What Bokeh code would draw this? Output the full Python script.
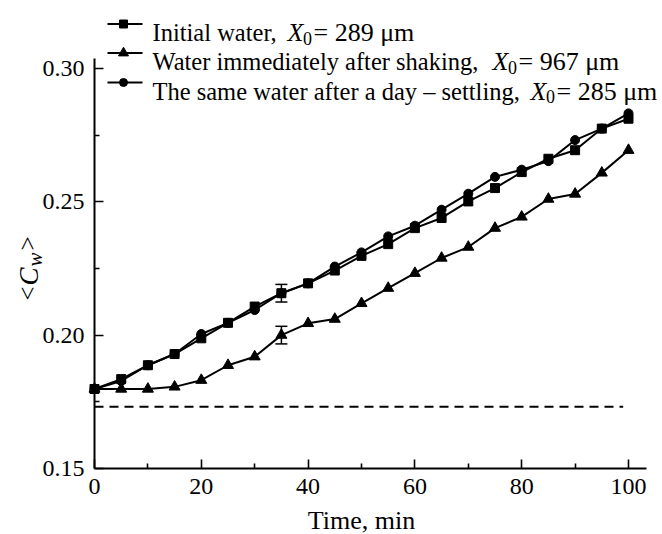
from math import pi
from bokeh.plotting import figure
from bokeh.models import (Range1d, FixedTicker, NumeralTickFormatter, Label,
                          Whisker, TeeHead, ColumnDataSource)
from bokeh.embed import file_html
from bokeh.resources import INLINE

# ---------------- data ----------------
time_min = [0, 5, 10, 15, 20, 25, 30, 35, 40, 45, 50, 55, 60, 65, 70, 75, 80, 85, 90, 95, 100]
initial_water = [0.1798, 0.1835, 0.1887, 0.1929, 0.1988, 0.2046, 0.2107, 0.2157, 0.2194, 0.2242,
                 0.2297, 0.2341, 0.2401, 0.2439, 0.2501, 0.2551, 0.2611, 0.2661, 0.2693, 0.2774, 0.2811]
shaken_water = [0.1798, 0.1798, 0.1798, 0.1806, 0.1831, 0.1887, 0.1919, 0.2000, 0.2044, 0.2060,
                0.2119, 0.2176, 0.2232, 0.2289, 0.2330, 0.2401, 0.2443, 0.2510, 0.2529, 0.2608, 0.2693]
settled_water = [0.1798, 0.1828, 0.1887, 0.1929, 0.2004, 0.2046, 0.2094, 0.2157, 0.2194, 0.2257,
                 0.2310, 0.2370, 0.2410, 0.2470, 0.2530, 0.2593, 0.2620, 0.2652, 0.2731, 0.2774, 0.2831]
level_time = [0, 99]
level_value = [0.1731, 0.1731]
err_time = [35, 35]
err_center = [0.2157, 0.2000]
err_half = [0.0033, 0.0033]

x_ticks = [0, 20, 40, 60, 80, 100]
x_minor = [10, 30, 50, 70, 90]
y_ticks = [0.15, 0.20, 0.25, 0.30]
y_minor = [0.175, 0.225, 0.275]

legend_text = ["Initial water,", "Water immediately after shaking,",
               "The same water after a day \u2013 settling,"]
legend_value = ["= 289 \u03bcm", "= 967 \u03bcm", "= 285 \u03bcm"]
legend_marker = ["square", "triangle", "circle"]
x_title = "Time, min"

# ---------------- layout ----------------
W, H = 662, 534
AX_LEFT_PX, AX_BOTTOM_PX = 94, 468   # where x=0 and y=0.15 sit on the canvas
XS = 5.34          # px per minute
YS = 2668.0        # px per unit
FONT = "Liberation Serif"


def px2x(px):
    return (px - AX_LEFT_PX) / XS


def py2y(py):
    return 0.15 + (AX_BOTTOM_PX - py) / YS


p = figure(width=W, height=H, output_backend="svg", toolbar_location=None, tools="",
           x_range=Range1d(px2x(0), px2x(W)), y_range=Range1d(py2y(H), py2y(0)),
           min_border_left=0, min_border_right=0, min_border_top=0, min_border_bottom=0)
p.outline_line_color = None
p.xgrid.visible = False
p.ygrid.visible = False
p.background_fill_color = "white"
p.border_fill_color = "white"

for ax in (p.xaxis[0], p.yaxis[0]):
    ax.axis_line_width = 2
    ax.axis_line_color = "black"
    ax.major_tick_line_width = 1.6
    ax.minor_tick_line_width = 1.6
    ax.major_tick_line_color = "black"
    ax.minor_tick_line_color = "black"
    ax.major_tick_in = 9
    ax.major_tick_out = 0
    ax.minor_tick_in = 5
    ax.minor_tick_out = 0
    ax.major_label_text_font = FONT
    ax.major_label_text_font_size = "24px"
    ax.major_label_text_color = "black"
    ax.major_label_standoff = 10

p.xaxis[0].fixed_location = 0.15
p.yaxis[0].fixed_location = 0
p.xaxis[0].ticker = FixedTicker(ticks=x_ticks, minor_ticks=x_minor)
p.yaxis[0].ticker = FixedTicker(ticks=y_ticks, minor_ticks=y_minor)
p.yaxis[0].formatter = NumeralTickFormatter(format="0.00")
p.xaxis[0].bounds = (0, px2x(646))
p.yaxis[0].bounds = (0.15, py2y(58))

# ---------------- series ----------------
series = [initial_water, shaken_water, settled_water]
sizes = {"square": 9, "triangle": 11, "circle": 9}
for vals, mk in zip(series, legend_marker):
    p.line(time_min, vals, line_color="black", line_width=2)
    p.scatter(time_min, vals, marker=mk, size=sizes[mk], fill_color="black", line_color="black")

p.line(level_time, level_value, line_color="black", line_width=2, line_dash="9 6")

src = ColumnDataSource(dict(base=err_time,
                            upper=[c + h for c, h in zip(err_center, err_half)],
                            lower=[c - h for c, h in zip(err_center, err_half)]))
p.add_layout(Whisker(source=src, base="base", upper="upper", lower="lower",
                     line_color="black", line_width=1.5,
                     upper_head=TeeHead(size=12, line_width=1.5, line_color="black"),
                     lower_head=TeeHead(size=12, line_width=1.5, line_color="black")))

# ---------------- legend ----------------
row_py = [23.5, 52.5, 82]
x_sym_px = [287, 492, 530]
for i in range(3):
    ry = py2y(row_py[i])
    p.line([px2x(107), px2x(142)], [ry, ry], line_color="black", line_width=2)
    p.scatter([px2x(123)], [ry], marker=legend_marker[i], size=8 if legend_marker[i] != "triangle" else 10,
              fill_color="black", line_color="black")
    by = py2y(row_py[i] + 8.5)
    p.add_layout(Label(x=px2x(152), y=by, text=legend_text[i], text_font=FONT,
                       text_font_size="24.5px", text_baseline="alphabetic", text_align="left",
                       text_color="black"))
    xs = x_sym_px[i]
    p.add_layout(Label(x=px2x(xs), y=by, text="X", text_font=FONT, text_font_style="italic",
                       text_font_size="26px", text_baseline="alphabetic", text_align="left",
                       text_color="black"))
    p.add_layout(Label(x=px2x(xs + 15.5), y=py2y(row_py[i] + 14), text="0", text_font=FONT,
                       text_font_size="18px", text_baseline="alphabetic", text_align="left",
                       text_color="black"))
    p.add_layout(Label(x=px2x(xs + 26), y=by, text=legend_value[i], text_font=FONT,
                       text_font_size="26px", text_baseline="alphabetic", text_align="left",
                       text_color="black"))

# ---------------- axis titles ----------------
p.add_layout(Label(x=px2x(361), y=py2y(520), text=x_title, text_font=FONT,
                   text_font_size="26px", text_baseline="alphabetic", text_align="center",
                   text_color="black"))

pieces = [("<", 300, 27, "normal", "25px"),
          ("C", 285, 28, "italic", "27px"),
          ("w", 266, 34, "italic", "21px"),
          (">", 250, 27, "normal", "25px")]
for txt, py, px, style, fs in pieces:
    p.add_layout(Label(x=px2x(px), y=py2y(py), text=txt, text_font=FONT,
                       text_font_style=style, text_font_size=fs, angle=pi / 2,
                       text_baseline="alphabetic", text_align="left", text_color="black"))

open("out.html", "w").write(file_html(p, INLINE))
